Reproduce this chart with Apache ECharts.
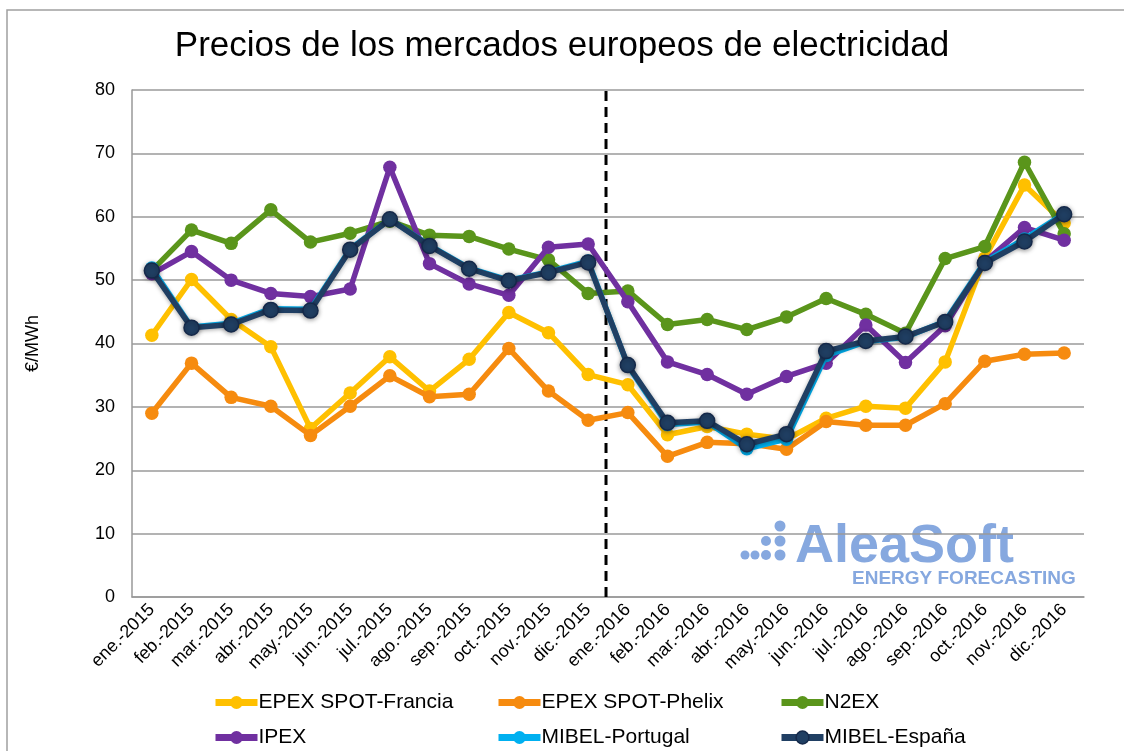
<!DOCTYPE html>
<html>
<head>
<meta charset="utf-8">
<script src="https://cdn.jsdelivr.net/npm/echarts@6/dist/echarts.min.js"></script>
<style>
html,body{margin:0;padding:0;background:#fff;}
#chart{width:1124px;height:751px;}
</style>
</head>
<body>
<div id="chart"></div>
<script>
const categories = ['ene.-2015','feb.-2015','mar.-2015','abr.-2015','may.-2015','jun.-2015','jul.-2015','ago.-2015','sep.-2015','oct.-2015','nov.-2015','dic.-2015',
  'ene.-2016','feb.-2016','mar.-2016','abr.-2016','may.-2016','jun.-2016','jul.-2016','ago.-2016','sep.-2016','oct.-2016','nov.-2016','dic.-2016'];
const francia  = [41.3,50.1,43.8,39.5,26.6,32.2,37.9,32.5,37.5,44.9,41.7,35.1, 33.5,25.6,26.9,25.7,24.9,28.2,30.1,29.8,37.1,53.5,65.0,59.0];
const phelix   = [29.0,36.9,31.5,30.1,25.5,30.1,34.9,31.6,32.0,39.2,32.5,27.9, 29.1,22.2,24.4,24.2,23.3,27.7,27.1,27.1,30.5,37.2,38.3,38.5];
const n2ex     = [51.5,57.9,55.8,61.1,56.0,57.4,59.3,57.1,56.9,54.9,53.2,47.9, 48.3,43.0,43.8,42.2,44.2,47.1,44.6,41.6,53.4,55.3,68.6,57.3];
const ipex     = [51.0,54.5,50.0,47.9,47.4,48.6,67.8,52.6,49.4,47.6,55.2,55.7, 46.6,37.1,35.1,32.0,34.8,36.9,42.9,37.0,42.8,52.9,58.3,56.3];
const portugal = [51.9,42.6,43.2,45.5,45.4,54.9,59.6,55.5,51.9,50.0,51.3,53.0, 36.5,27.2,27.6,23.4,24.9,38.1,40.3,41.0,43.5,52.9,56.5,60.5];
const espana   = [51.5,42.5,43.0,45.3,45.2,54.8,59.6,55.4,51.8,49.9,51.2,52.8, 36.6,27.5,27.8,24.1,25.7,38.8,40.4,41.1,43.4,52.7,56.1,60.4];
const yTicks = {min:0, max:80, interval:10};
const dividerX = 11.45; // between dic.-2015 and ene.-2016, in category index units
const seriesNames = ['EPEX SPOT-Francia','EPEX SPOT-Phelix','N2EX','IPEX','MIBEL-Portugal','MIBEL-España'];

const FONT = "'Liberation Sans', Arial, sans-serif";
const colors = ['#FFC000','#F68B0F','#5A951B','#7030A0','#00B0F0','#203F63'];
const datas = [francia, phelix, n2ex, ipex, portugal, espana];

const chart = echarts.init(document.getElementById('chart'), null, {renderer:'canvas'});

const series = datas.map((d,i)=>{
  const isEs = i===5;
  return {
    name: seriesNames[i],
    type: 'line',
    xAxisIndex: 0,
    data: d,
    symbol: 'circle',
    symbolSize: isEs ? 15 : 13.5,
    lineStyle: {color: colors[i], width: 5.5,
      shadowBlur: isEs ? 4 : 0, shadowColor: 'rgba(0,0,0,0.35)', shadowOffsetY: isEs?1:0},
    itemStyle: {color: colors[i], borderColor: isEs ? '#15294a' : colors[i], borderWidth: isEs ? 1.5 : 0,
      shadowBlur: isEs ? 5 : 0, shadowColor: 'rgba(0,0,0,0.4)', shadowOffsetY: isEs?1:0},
    emphasis: {disabled: true},
    z: 3 + i
  };
});

series.push({
  name: 'divider',
  type: 'line',
  xAxisIndex: 1,
  data: [[dividerX, yTicks.min],[dividerX, yTicks.max]],
  symbol: 'none',
  lineStyle: {color:'#000', width: 3, type: [10,6]},
  silent: true,
  z: 2
});

const legendCols = [207, 490, 773];
const legendRows = [687, 722];
const legends = seriesNames.map((n,i)=>({
  orient: 'horizontal',
  left: legendCols[i%3], top: legendRows[Math.floor(i/3)],
  itemWidth: 42, itemHeight: 16, itemGap: 0,
  data: [n],
  lineStyle: {width: 7},
  itemStyle: {borderWidth: i===5 ? 1.5 : 0},
  textStyle: {fontFamily: FONT, fontSize: 21, color:'#000', padding:[0,0,0,-4]},
  selectedMode: false
}));

chart.setOption({
  backgroundColor: '#fff',
  animation: false,
  title: {
    text: 'Precios de los mercados europeos de electricidad',
    left: 'center', top: 24,
    textStyle: {fontFamily: FONT, fontSize: 35, fontWeight: 'normal', color:'#000'}
  },
  legend: legends,
  grid: {left: 132, top: 90, right: 40, bottom: 154, containLabel: false, outerBoundsMode: 'none'},
  xAxis: [{
    type: 'category',
    data: categories,
    boundaryGap: true,
    axisLine: {show: true, onZero: false, lineStyle: {color:'#999', width: 1.5}},
    axisTick: {show: false},
    axisLabel: {rotate: 45, fontFamily: FONT, fontSize: 18, color:'#000', margin: 10, interval: 0}
  },{
    type: 'value',
    min: -0.5, max: 23.5,
    show: false
  }],
  yAxis: {
    type: 'value',
    min: yTicks.min, max: yTicks.max, interval: yTicks.interval,
    name: '€/MWh',
    nameLocation: 'middle',
    nameGap: 90,
    nameRotate: 90,
    nameTextStyle: {fontFamily: FONT, fontSize: 18, color:'#000'},
    axisLine: {show: true, onZero: false, lineStyle: {color:'#999', width: 1.5}},
    axisTick: {show: false},
    axisLabel: {fontFamily: FONT, fontSize: 18, color:'#000', margin: 17},
    splitLine: {show: true, lineStyle: {color:'#9a9a9a', width: 1.5}}
  },
  graphic: [
    {type:'rect', shape:{x:7, y:10, width:1140, height:760}, style:{fill:'none', stroke:'#a0a0a0', lineWidth:1.5}, z:0, silent:true},
    {type:'group', z: 1, silent:true, children:[
      {type:'circle', shape:{cx:745, cy:555, r:4.5}, style:{fill:'#86A8DF'}},
      {type:'circle', shape:{cx:755, cy:555, r:4.5}, style:{fill:'#86A8DF'}},
      {type:'circle', shape:{cx:766, cy:555, r:5}, style:{fill:'#86A8DF'}},
      {type:'circle', shape:{cx:766, cy:541, r:5}, style:{fill:'#86A8DF'}},
      {type:'circle', shape:{cx:780, cy:555, r:5.5}, style:{fill:'#86A8DF'}},
      {type:'circle', shape:{cx:780, cy:541, r:5.5}, style:{fill:'#86A8DF'}},
      {type:'circle', shape:{cx:780, cy:526, r:5.5}, style:{fill:'#86A8DF'}},
      {type:'text', x:795, y:520, style:{text:'AleaSoft', font:"bold 54px 'Liberation Sans', Arial, sans-serif", fill:'#86A8DF'}},
      {type:'text', x:852, y:569, style:{text:'ENERGY FORECASTING', font:"bold 19px 'Liberation Sans', Arial, sans-serif", fill:'#86A8DF'}}
    ]}
  ],
  series: series
});
</script>
</body>
</html>
